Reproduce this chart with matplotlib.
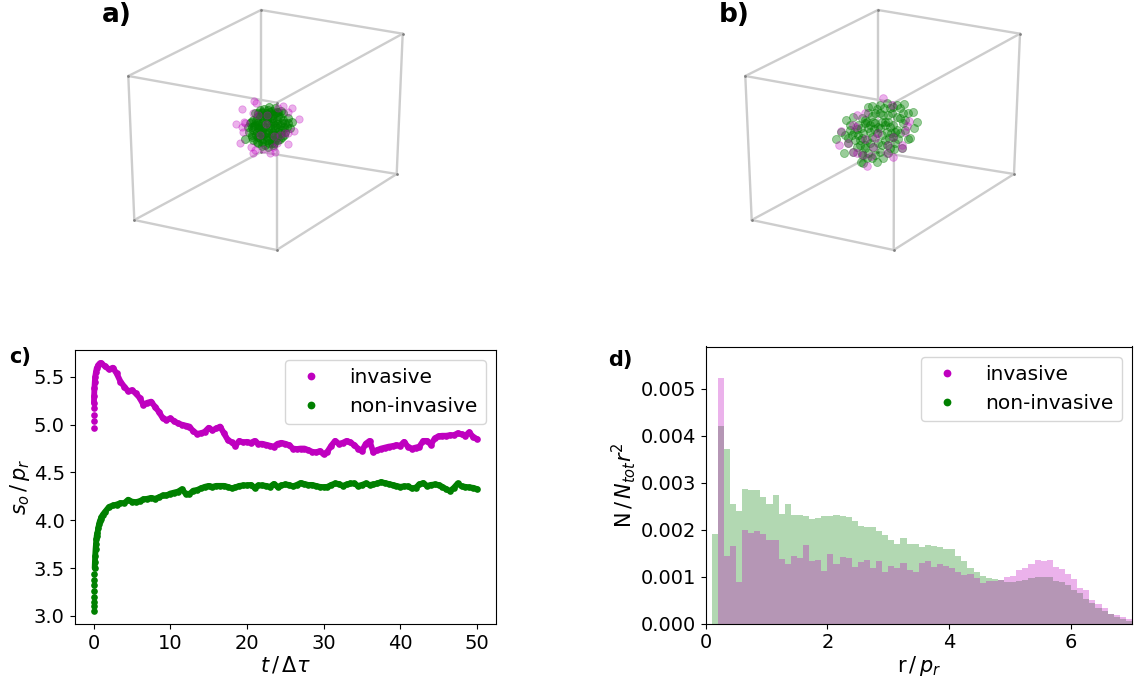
import matplotlib
matplotlib.use("Agg")
import matplotlib.pyplot as plt
from matplotlib.lines import Line2D

W, H = 1140, 684
TICK_FS = 14
LEG_FS = 14.5
LAB_FS = 15

# --- panel c -------------------------------------------------------------
t_inv = [0, .005, .01, .02, .04, .06, .1, .15, .2, .3, .4, .6, .8] + [1 + .5 * i for i in range(99)]
s_inv = [4.96, 5.04, 5.10, 5.17, 5.23, 5.30, 5.38, 5.45, 5.50, 5.55, 5.59, 5.62, 5.64,
         5.64, 5.61, 5.577, 5.595, 5.535, 5.45, 5.396, 5.35, 5.36, 5.326, 5.28, 5.205,
         5.229, 5.24, 5.187, 5.135, 5.07, 5.05, 5.065, 5.037, 5.013, 5.0, 4.99, 4.98,
         4.93, 4.905, 4.91, 4.926, 4.967, 4.94, 4.96, 4.98, 4.91, 4.84, 4.815, 4.78,
         4.83, 4.815, 4.82, 4.81, 4.83, 4.80, 4.80, 4.79, 4.78, 4.77, 4.80, 4.81,
         4.80, 4.786, 4.75, 4.745, 4.75, 4.75, 4.735, 4.717, 4.71, 4.724, 4.69, 4.717,
         4.78, 4.83, 4.80, 4.81, 4.83, 4.815, 4.786, 4.75, 4.724, 4.80, 4.83, 4.71,
         4.735, 4.75, 4.76, 4.77, 4.776, 4.786, 4.78, 4.82, 4.77, 4.75, 4.76, 4.77,
         4.83, 4.83, 4.79, 4.856, 4.88, 4.884, 4.884, 4.89, 4.89, 4.91, 4.90, 4.884,
         4.92, 4.873, 4.85]
t_non = [0, .01, .02, .03, .04, .06, .08, .1, .13, .16, .2, .25, .3, .35, .4, .5, .6, .7, .8, .9,
         1.0, 1.2, 1.5] + [2 + .5 * i for i in range(97)]
s_non = [3.05, 3.10, 3.15, 3.20, 3.26, 3.32, 3.38, 3.44, 3.50, 3.56, 3.63, 3.70, 3.75, 3.80, 3.84,
         3.87, 3.92, 3.96, 3.99, 4.01, 4.03, 4.06, 4.09,
         4.14, 4.155, 4.165, 4.18, 4.18, 4.215, 4.195, 4.19, 4.20, 4.22, 4.225, 4.235,
         4.225, 4.24, 4.26, 4.26, 4.28, 4.29, 4.30, 4.324, 4.28, 4.275, 4.31, 4.317,
         4.335, 4.35, 4.36, 4.35, 4.36, 4.36, 4.36, 4.35, 4.335, 4.345, 4.36, 4.365,
         4.365, 4.37, 4.34, 4.365, 4.365, 4.36, 4.35, 4.38, 4.35, 4.365,
         4.375, 4.37, 4.355, 4.37, 4.39, 4.38, 4.37, 4.37, 4.36, 4.35, 4.347, 4.35,
         4.37, 4.385, 4.38, 4.36, 4.375, 4.385, 4.385, 4.36, 4.37, 4.385, 4.37, 4.375,
         4.385, 4.40, 4.39, 4.38, 4.37, 4.36, 4.35, 4.355, 4.355, 4.333, 4.34, 4.375,
         4.39, 4.36, 4.37, 4.375, 4.37, 4.35, 4.327, 4.306, 4.34, 4.385, 4.355, 4.35,
         4.344, 4.34, 4.327]

# --- panel d -------------------------------------------------------------
bin_width = 0.1
r_non = [round(0.1 + 0.1 * i, 1) for i in range(69)]
n_non = [.00191, .0042, .00372, .00254, .00239, .00286, .00284, .00285, .0027, .00255,
         .00273, .00233, .00255, .00231, .00231, .0023, .00222, .00224, .0023, .0023,
         .00231, .00228, .00226, .00218, .00207, .00205, .00206, .00197, .00188, .00177,
         .0017, .00182, .0017, .0017, .00163, .00167, .00165, .00162, .00159, .00159,
         .00143, .00133, .00119, .00109, .00101, .00097, .00095, .00092, .00089, .00089,
         .00091, .00093, .00096, .00098, .00099, .00098, .00091, .00088, .00083, .00071,
         .00064, .00053, .00043, .00033, .00027, .0002, .00014, .0001, .00006]
r_inv = [round(0.2 + 0.1 * i, 1) for i in range(68)]
n_inv = [.00523, .00144, .00165, .00089, .00199, .00192, .00197, .0019, .00177, .00177,
         .00138, .00127, .00144, .0014, .00167, .00133, .00135, .00111, .00147, .00126,
         .00141, .0014, .00121, .0013, .00136, .00119, .00133, .0011, .00122, .00118,
         .00128, .00113, .00109, .00129, .00133, .00121, .00126, .00123, .00118, .0011,
         .00104, .00106, .00096, .00087, .00091, .00091, .00092, .00099, .00101, .00113,
         .00118, .00126, .00135, .00133, .00135, .00121, .00116, .00106, .00095, .00076,
         .00071, .00051, .00041, .00032, .00021, .00018, .00014, .00009]

# --- panels a, b: box corners and points (pixels) ----
box_a_x = [128.3, 261, 402.7, 276.7, 134.3, 276.7, 396.7, 261]
box_a_y = [76, 10, 33.7, 102.7, 220, 250, 174, 152]
box_b_x = [745.3, 878, 1020, 894, 751.7, 893.7, 1014, 878]
box_b_y = [76, 10, 33.7, 102.7, 220, 250, 174, 152]
edges = [(0, 1), (1, 2), (2, 3), (3, 0), (4, 5), (5, 6), (6, 7), (7, 4), (0, 4), (1, 7), (2, 6), (3, 5)]

a_inv = [(87, 32), (92, 40), (52, 56), (33, 101), (57, 95), (52, 112), (55, 125), (46, 160), (78, 172),
         (90, 180), (85, 188), (115, 178), (135, 190), (150, 185), (155, 160), (190, 162), (145, 170),
         (190, 130), (207, 122), (222, 88), (200, 55), (173, 48), (188, 65), (98, 75), (127, 75),
         (123, 103), (105, 135), (147, 137), (165, 135), (180, 130), (60, 100), (85, 70), (160, 55)]
a_non = [(60, 147), (75, 100), (85, 90), (80, 110), (72, 125), (90, 70), (105, 60), (118, 58), (135, 65),
         (150, 55), (160, 65), (175, 70), (190, 85), (200, 95), (195, 115), (180, 125), (170, 140),
         (160, 150), (140, 160), (120, 165), (100, 160), (85, 150), (80, 135), (95, 125), (100, 105),
         (110, 85), (125, 90), (140, 85), (155, 90), (165, 105), (150, 115), (130, 120), (115, 135),
         (130, 145), (150, 135), (100, 95), (115, 110), (135, 105), (145, 75), (165, 80), (180, 100),
         (85, 120), (105, 145), (120, 75), (95, 82), (170, 120), (155, 65), (128, 60), (110, 70),
         (90, 105), (140, 135), (125, 150), (185, 110), (145, 100), (120, 130), (105, 120), (160, 125),
         (175, 90), (135, 80), (150, 150), (110, 155),
         (92, 135), (108, 130), (125, 140), (140, 150), (155, 142), (168, 130), (178, 112), (172, 98),
         (158, 78), (142, 62), (122, 68), (105, 78), (92, 92), (86, 108), (98, 115), (112, 98), (128, 98),
         (142, 92), (156, 102), (160, 115), (145, 125), (128, 128), (112, 122), (100, 140), (115, 148),
         (132, 158), (148, 160), (165, 148), (178, 135), (188, 98), (168, 62), (150, 68), (132, 52),
         (112, 65), (98, 68), (78, 95), (70, 112), (82, 142), (95, 155), (112, 168), (128, 172), (145, 165),
         (120, 112), (135, 115), (150, 105), (118, 85), (132, 72), (105, 108), (140, 128), (125, 82)]
b_inv = [(173, 25), (95, 75), (120, 68), (85, 105), (92, 112), (48, 123), (42, 165), (70, 160), (83, 185),
         (97, 190), (125, 228), (205, 202), (185, 190), (232, 165), (232, 175), (252, 92), (247, 108),
         (240, 125), (205, 140), (160, 128), (150, 143), (120, 148), (145, 172), (137, 197), (200, 45),
         (190, 165), (115, 195)]
b_non = [(140, 47), (130, 52), (185, 38), (205, 50), (237, 42), (225, 55), (265, 67), (250, 70), (275, 95),
         (268, 113), (255, 145), (232, 175), (248, 148), (62, 90), (85, 80), (75, 105), (48, 125), (32, 147),
         (68, 160), (57, 188), (83, 185), (108, 215), (115, 220), (155, 215), (175, 205), (190, 190),
         (120, 90), (145, 95), (165, 70), (190, 75), (215, 80), (100, 135), (120, 100), (180, 95),
         (205, 105), (235, 100), (225, 130), (185, 125), (155, 130), (125, 150), (105, 165), (80, 135),
         (145, 170), (170, 165), (195, 175), (210, 160), (130, 190), (110, 195), (160, 110), (205, 140),
         (235, 70), (180, 150), (135, 125), (100, 105), (240, 120), (165, 45), (215, 45), (110, 190),
         (90, 150), (130, 70), (195, 55), (150, 70), (170, 95), (215, 120), (120, 175), (75, 120),
         (140, 205), (225, 85),
         (112, 85), (125, 95), (135, 105), (150, 100), (180, 105), (190, 95), (198, 130), (172, 135),
         (140, 140), (115, 130), (95, 118), (112, 145), (135, 160), (160, 160), (185, 165), (208, 178),
         (95, 170), (120, 165), (165, 185), (150, 195), (125, 205), (192, 145), (220, 148), (240, 90),
         (200, 68), (178, 55), (155, 58), (142, 78), (108, 115), (88, 125), (60, 135), (68, 145), (105, 150),
         (165, 115), (175, 75), (195, 110), (210, 125), (130, 115), (148, 118)]
crop_a = (225, 90)
crop_b = (825, 90)

fig = plt.figure(figsize=(W / 100, H / 100), dpi=100)


def axes_px(l, t, r, b):
    return fig.add_axes([l / W, 1 - b / H, (r - l) / W, (b - t) / H])


bg = fig.add_axes([0, 0, 1, 1])
bg.set_xlim(0, W)
bg.set_ylim(H, 0)
bg.axis("off")


def cloud(pts, crop, color, alpha, z, size=31):
    x = [crop[0] + p[0] / 3 for p in pts]
    y = [crop[1] + p[1] / 3 for p in pts]
    bg.scatter(x, y, s=size, color=color, alpha=alpha, linewidths=0.6, zorder=z)


for bx, by in ((box_a_x, box_a_y), (box_b_x, box_b_y)):
    for i, j in edges:
        bg.plot([bx[i], bx[j]], [by[i], by[j]], color="#cdcdcd", lw=1.7, solid_capstyle="round", zorder=1)
    bg.scatter(bx, by, s=4, color="#808080", zorder=2, linewidths=0)
cloud(a_non, crop_a, "green", 0.5, 3, size=34)
cloud(a_inv, crop_a, "m", 0.3, 4, size=28)
cloud(b_non, crop_b, "green", 0.4, 3, size=34)
cloud(b_inv, crop_b, "m", 0.3, 4)

# panel c
ax_c = axes_px(74.5, 350, 496, 624)
ax_c.plot(t_inv[4:], s_inv[4:], "-", color="m", lw=4.2, solid_capstyle="round")
ax_c.plot(t_non[8:], s_non[8:], "-", color="green", lw=4.2, solid_capstyle="round")
ax_c.plot(t_inv, s_inv, "o", color="m", ms=4.8, mew=0)
ax_c.plot(t_non, s_non, "o", color="green", ms=4.8, mew=0)
ax_c.set_xlim(-2.5, 52.5)
ax_c.set_ylim(2.916, 5.78)
ax_c.set_xticks([0, 10, 20, 30, 40, 50])
ax_c.set_yticks([3.0, 3.5, 4.0, 4.5, 5.0, 5.5])
ax_c.set_xlabel(r"$t\,/\,\Delta\tau$", fontsize=LAB_FS, labelpad=1)
ax_c.set_ylabel(r"$s_o\,/\,p_r$", fontsize=LAB_FS, labelpad=1)

# panel d
ax_d = axes_px(705.5, 346.5, 1132, 623.5)
ax_d.bar(r_non, n_non, width=bin_width, align="edge", color="green", alpha=0.3, lw=0)
ax_d.bar(r_inv, n_inv, width=bin_width, align="edge", color="m", alpha=0.3, lw=0)
ax_d.set_xlim(0, 7)
ax_d.set_ylim(0, 0.0059)
ax_d.set_xticks([0, 2, 4, 6])
ax_d.set_yticks([0, 0.001, 0.002, 0.003, 0.004, 0.005])
ax_d.set_yticklabels(["0.000", "0.001", "0.002", "0.003", "0.004", "0.005"])
ax_d.set_xlabel(r"r$\,/\,p_r$", fontsize=LAB_FS, labelpad=1)
ax_d.set_ylabel(r"N$\,/\,N_{tot}r^2$", fontsize=LAB_FS, labelpad=2)

handles = [Line2D([], [], ls="", marker="o", color="m", ms=5.6, mew=0, label="invasive"),
           Line2D([], [], ls="", marker="o", color="green", ms=5.6, mew=0, label="non-invasive")]
for ax in (ax_c, ax_d):
    ax.tick_params(labelsize=TICK_FS)
    ax.legend(handles=handles, loc="upper right", fontsize=LEG_FS, numpoints=1,
              handletextpad=1.0, handlelength=1.8)

for label, x, y, size in (("a)", 102, 15, 19), ("b)", 719, 15, 19), ("c)", 9, 357, 15), ("d)", 608, 360, 15)):
    fig.text(x / W, 1 - y / H, label, fontsize=size, fontweight="bold", va="center", ha="left")

fig.savefig("out.png", dpi=100)
